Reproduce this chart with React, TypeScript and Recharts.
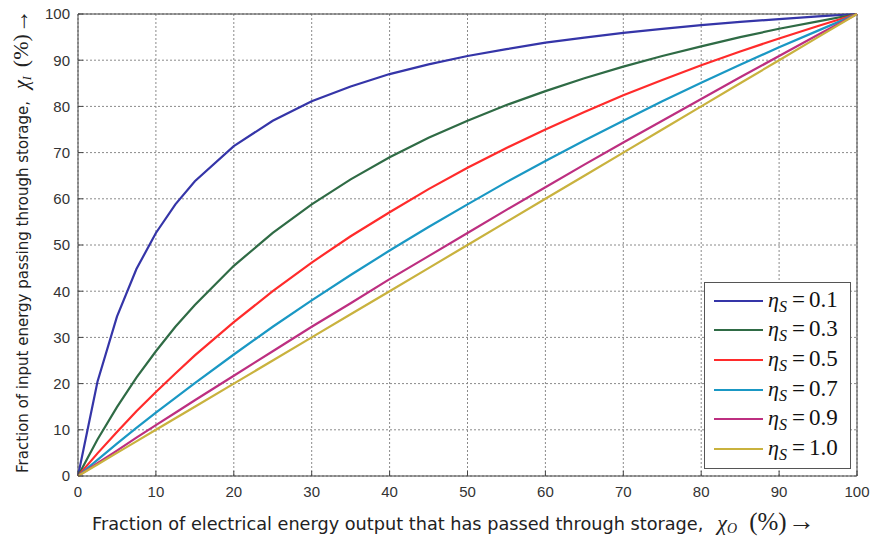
import React from "react";
import { LineChart, Line, XAxis, YAxis, CartesianGrid, Legend, ReferenceArea } from "recharts";

// Fraction of electrical energy output passed through storage (%)
const xValues = [0, 2.5, 5, 7.5, 10, 12.5, 15, 20, 25, 30, 35, 40, 45, 50, 55, 60, 65, 70, 75, 80, 85, 90, 95, 100];

// Fraction of input energy passing through storage (%)
const eta01 = [0, 20.4, 34.5, 44.8, 52.6, 58.8, 63.8, 71.4, 76.9, 81.1, 84.3, 87.0, 89.1, 90.9, 92.4, 93.8, 94.9, 95.9, 96.8, 97.6, 98.3, 98.9, 99.5, 100];
const eta03 = [0, 7.9, 14.9, 21.3, 27.0, 32.3, 37.0, 45.5, 52.6, 58.8, 64.2, 69.0, 73.2, 76.9, 80.3, 83.3, 86.1, 88.6, 90.9, 93.0, 95.0, 96.8, 98.4, 100];
const eta05 = [0, 4.9, 9.5, 14.0, 18.2, 22.2, 26.1, 33.3, 40.0, 46.2, 51.9, 57.1, 62.1, 66.7, 71.0, 75.0, 78.8, 82.4, 85.7, 88.9, 91.9, 94.7, 97.4, 100];
const eta07 = [0, 3.5, 7.0, 10.4, 13.7, 16.9, 20.1, 26.3, 32.3, 38.0, 43.5, 48.8, 53.9, 58.8, 63.6, 68.2, 72.6, 76.9, 81.1, 85.1, 89.0, 92.8, 96.4, 100];
const eta09 = [0, 2.8, 5.5, 8.3, 11.0, 13.7, 16.4, 21.7, 27.0, 32.3, 37.4, 42.6, 47.6, 52.6, 57.6, 62.5, 67.4, 72.2, 76.9, 81.6, 86.3, 90.9, 95.5, 100];
const eta10 = [0, 2.5, 5, 7.5, 10, 12.5, 15, 20, 25, 30, 35, 40, 45, 50, 55, 60, 65, 70, 75, 80, 85, 90, 95, 100];

const tickValues = [0, 10, 20, 30, 40, 50, 60, 70, 80, 90, 100];

const seriesDefs = [
  { key: "e01", label: "0.1", values: eta01, color: "#3535a8" },
  { key: "e03", label: "0.3", values: eta03, color: "#2f6b45" },
  { key: "e05", label: "0.5", values: eta05, color: "#ff2b2b" },
  { key: "e07", label: "0.7", values: eta07, color: "#1a98c4" },
  { key: "e09", label: "0.9", values: eta09, color: "#bd2f80" },
  { key: "e10", label: "1.0", values: eta10, color: "#c9b23e" },
];

const data = xValues.map((x, i) => {
  const row: Record<string, number> = { x };
  seriesDefs.forEach((s) => {
    row[s.key] = s.values[i];
  });
  return row;
});

const SANS = "'DejaVu Sans', Verdana, sans-serif";
const TICK_FONT = "'Liberation Sans', Arial, sans-serif";
const SERIF = "'Liberation Serif', 'Times New Roman', serif";

const renderLegend = (props: any) => {
  const payload = props.payload || [];
  return (
    <div
      style={{
        border: "1px solid #555",
        background: "#fff",
        width: 147,
        height: 187,
        boxSizing: "border-box",
        padding: "3px 0 0 0",
      }}
    >
      {payload.map((p: any) => {
        const def = seriesDefs.find((s) => s.key === p.dataKey);
        return (
          <div key={p.dataKey} style={{ height: 29.6, display: "flex", alignItems: "center" }}>
            <svg width={60} height={10} style={{ display: "block", flex: "none" }}>
              <line x1={9} y1={5} x2={58} y2={5} stroke={p.color} strokeWidth={2} />
            </svg>
            <span style={{ fontFamily: SERIF, fontSize: 22, color: "#111", whiteSpace: "nowrap", marginLeft: 3, lineHeight: "22px" }}>
              <i>η</i>
              <i style={{ fontSize: 16, position: "relative", top: 5 }}>S</i>
              <span style={{ marginLeft: 5, fontSize: 23 }}>=</span>
              <span style={{ marginLeft: 4, fontSize: 23 }}>{def ? def.label : ""}</span>
            </span>
          </div>
        );
      })}
    </div>
  );
};

export default function App() {
  return (
    <div style={{ position: "absolute", left: 0, top: 0, width: 871, height: 540, background: "#fff" }}>
      <LineChart width={871} height={540} data={data} margin={{ top: 14, right: 14, bottom: 34, left: 0 }}>
        <CartesianGrid stroke="#8a8a8a" strokeDasharray="2 2" strokeWidth={1} />
        <XAxis
          dataKey="x"
          type="number"
          domain={[0, 100]}
          ticks={tickValues}
          height={30}
          axisLine={false}
          tickLine={{ stroke: "#444" }}
          tickSize={-5}
          tickMargin={15}
          tick={{ fill: "#333", fontSize: 15, fontFamily: TICK_FONT }}
        />
        <YAxis
          type="number"
          domain={[0, 100]}
          ticks={tickValues}
          width={78}
          axisLine={false}
          tickLine={{ stroke: "#444" }}
          tickSize={-5}
          tickMargin={13}
          tick={{ fill: "#333", fontSize: 15, fontFamily: TICK_FONT }}
        />
        <ReferenceArea x1={0} x2={100} y1={0} y2={100} fill="none" stroke="#444" strokeWidth={1} ifOverflow="visible" />
        {seriesDefs.map((s) => (
          <Line
            key={s.key}
            dataKey={s.key}
            type="linear"
            stroke={s.color}
            strokeWidth={2.2}
            dot={false}
            isAnimationActive={false}
          />
        ))}
        <Legend
          content={renderLegend}
          layout="vertical"
          align="center"
          verticalAlign="middle"
          wrapperStyle={{ position: "absolute", left: 704, top: 282, width: 147, height: 187 }}
        />
      </LineChart>
      <svg width={871} height={540} style={{ position: "absolute", left: 0, top: 0, pointerEvents: "none" }}>
        <text x={92} y={530} textAnchor="start" fill="#222" fontSize={17.7} fontFamily={SANS}>
          Fraction of electrical energy output that has passed through storage,
          <tspan dx={14} fontFamily={SERIF} fontStyle="italic" fontSize={22}>χ</tspan>
          <tspan fontFamily={SERIF} fontStyle="italic" fontSize={14} dy={3}>O</tspan>
          <tspan dx={12} dy={-3} fontFamily={SERIF} fontSize={25}>(%)</tspan>
          <tspan dx={1} fontFamily={SERIF} fontSize={27}>→</tspan>
        </text>
        <text
          x={0}
          y={0}
          transform="translate(28,473) rotate(-90)"
          textAnchor="start"
          fill="#222"
          fontSize={15}
          fontFamily={SANS}
        >
          Fraction of input energy passing through storage,
          <tspan dx={12} fontFamily={SERIF} fontStyle="italic" fontSize={20}>χ</tspan>
          <tspan fontFamily={SERIF} fontStyle="italic" fontSize={12} dy={3}>I</tspan>
          <tspan dx={9} dy={-3} fontFamily={SERIF} fontSize={22}>(%)</tspan>
          <tspan dx={1} fontFamily={SERIF} fontSize={24}>→</tspan>
        </text>
      </svg>
    </div>
  );
}
